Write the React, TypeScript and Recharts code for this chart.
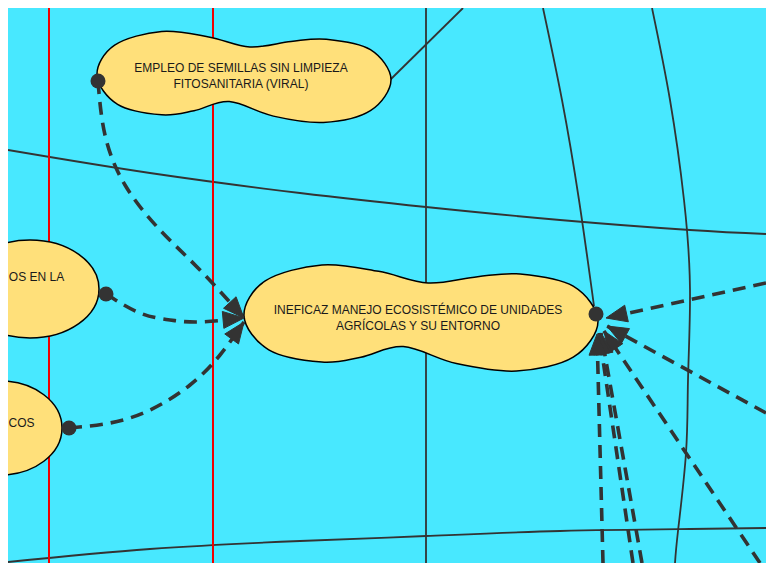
import React from 'react'
import { ComposedChart, XAxis, YAxis, Line, Scatter } from 'recharts'

type Pt = { x: number; y: number }

const pts = (arr: number[][]): Pt[] => arr.map(([x, y]) => ({ x, y }))

// nodes (centre of each shape, chart units)
const nodeLabels = [
  ['EMPLEO DE SEMILLAS SIN LIMPIEZA', 'FITOSANITARIA (VIRAL)'],
  ['INEFICAZ MANEJO ECOSISTÉMICO DE UNIDADES', 'AGRÍCOLAS Y SU ENTORNO'],
  ['OS EN LA'],
  ['COS'],
]
const nodeX = [244, 421, 30, 0]
const nodeY = [77, 318, 289, 428]

// plain connector lines
const redLineX = [49, 213]
const midVertical = pts([[426, 8], [426, 563]])
const diagTop = pts([[463, 8], [390, 80]])
const arcToNode = pts([[543, 8], [562, 100], [579, 200], [594, 306]])
const arcRight = pts([[652, 8], [670, 100], [684, 200], [690, 290], [688, 380], [686, 453], [678, 531], [675, 563]])
const arcUpper = pts([[8, 150], [150, 173], [300, 193], [426, 207], [560, 220], [690, 230], [766, 234]])
const arcLower = pts([[8, 562], [150, 549], [300, 541], [426, 536], [560, 531], [690, 529], [766, 528]])

// dashed arrows, ending at the arrow tip
const dashFromSeeds = pts([[98, 81], [105, 135], [125, 185], [160, 230], [200, 270], [244, 318]])
const dashFromLeft = pts([[106, 294], [140, 313], [170, 320], [200, 322], [244, 318]])
const dashFromLow = pts([[69, 428], [110, 423], [150, 410], [190, 385], [220, 355], [244, 322]])
const dashR1 = pts([[766, 283], [606, 318]])
const dashR2 = pts([[766, 413], [607, 326]])
const dashR3 = pts([[760, 563], [604, 331]])
const dashR4 = pts([[642, 563], [601, 333]])
const dashR5 = pts([[633, 563], [599, 333]])
const dashR6 = pts([[603, 563], [597, 334]])

const startDots = pts([[98, 81], [106, 294], [69, 428], [596, 314]])

const curvedDashes = [dashFromSeeds, dashFromLeft, dashFromLow]
const straightDashes = [dashR1, dashR2, dashR3, dashR4, dashR5, dashR6]

const BG = '#48E8FF'
const YELLOW = '#FFE07A'
const DARK = '#333333'
const RED = '#F00000'
const FONT = '"Liberation Sans", Arial, Helvetica, sans-serif'

const NODE_STYLE = [
  { kind: 'peanut', w: 294, h: 91, tx: -3, ty: -1 },
  { kind: 'peanut', w: 354, h: 106, tx: -3, ty: 0 },
  { kind: 'ellipse', w: 138, h: 98, tx: 6.5, ty: -12 },
  { kind: 'ellipse', w: 124, h: 94, tx: 21.5, ty: -5 },
]

// normalised outline of the peanut shape
const PEANUT = [
  [0, 0.48], [0.06, 0.15], [0.22, 0], [0.38, 0.06], [0.52, 0.17], [0.66, 0.11],
  [0.78, 0.085], [0.93, 0.2], [1, 0.53], [0.93, 0.87], [0.77, 1], [0.6, 0.93],
  [0.45, 0.77], [0.33, 0.87], [0.22, 0.915], [0.07, 0.8],
]

function peanutPath(cx: number, cy: number, w: number, h: number) {
  const p = PEANUT.map(([u, v]) => [cx - w / 2 + u * w, cy - h / 2 + v * h])
  const n = p.length
  let d = `M${p[0][0]},${p[0][1]}`
  for (let i = 0; i < n; i++) {
    const p0 = p[(i - 1 + n) % n], p1 = p[i], p2 = p[(i + 1) % n], p3 = p[(i + 2) % n]
    const c1 = [p1[0] + (p2[0] - p0[0]) / 6, p1[1] + (p2[1] - p0[1]) / 6]
    const c2 = [p2[0] - (p3[0] - p1[0]) / 6, p2[1] - (p3[1] - p1[1]) / 6]
    d += ` C${c1[0]},${c1[1]} ${c2[0]},${c2[1]} ${p2[0]},${p2[1]}`
  }
  return d + ' Z'
}

const nodeData = nodeX.map((x, i) => ({ x, y: nodeY[i], i }))

const arrowData = [...curvedDashes, ...straightDashes].map(a => {
  const t = a[a.length - 1]
  const p = a[a.length - 2]
  return { x: t.x, y: t.y, angle: Math.atan2(t.y - p.y, t.x - p.x) }
})

function NodeShape(props: any) {
  const { cx, cy, payload } = props
  const s = NODE_STYLE[payload.i]
  const lines = nodeLabels[payload.i]
  return (
    <g>
      {s.kind === 'peanut' ? (
        <path d={peanutPath(cx, cy, s.w, s.h)} fill={YELLOW} stroke="#000" strokeWidth={1.5} />
      ) : (
        <ellipse cx={cx} cy={cy} rx={s.w / 2} ry={s.h / 2} fill={YELLOW} stroke="#000" strokeWidth={1.5} />
      )}
      {lines.map((t, k) => (
        <text
          key={k}
          x={cx + s.tx}
          y={cy + s.ty + (k - (lines.length - 1) / 2) * 16}
          dy="0.35em"
          textAnchor="middle"
          fontFamily={FONT}
          fontSize={12}
          fill="#1a1a1a"
        >
          {t}
        </text>
      ))}
    </g>
  )
}

function DotShape(props: any) {
  return <circle cx={props.cx} cy={props.cy} r={7.5} fill={DARK} />
}

function ArrowShape(props: any) {
  const { cx, cy, payload } = props
  const a = payload.angle
  const len = 21
  const hw = 8.5
  const bx = cx - Math.cos(a) * len
  const by = cy - Math.sin(a) * len
  const px = -Math.sin(a) * hw
  const py = Math.cos(a) * hw
  return (
    <polygon
      points={`${cx},${cy} ${bx + px},${by + py} ${bx - px},${by - py}`}
      fill={DARK}
      stroke={DARK}
      strokeWidth={1}
    />
  )
}

const solidLine = (data: Pt[], key: string, type: any = 'natural') => (
  <Line
    key={key}
    data={data}
    dataKey="y"
    type={type}
    stroke={DARK}
    strokeWidth={1.8}
    dot={false}
    activeDot={false}
    isAnimationActive={false}
  />
)

export default function App() {
  return (
    <div
      style={{
        position: 'fixed',
        left: 8,
        top: 8,
        width: 758,
        height: 555,
        background: BG,
        overflow: 'hidden',
      }}
    >
      <ComposedChart width={758} height={555} margin={{ top: 0, right: 0, bottom: 0, left: 0 }}>
        <XAxis type="number" dataKey="x" domain={[8, 766]} hide allowDataOverflow />
        <YAxis type="number" dataKey="y" domain={[8, 563]} reversed hide allowDataOverflow />
        {solidLine(midVertical, 'v', 'linear')}
        {solidLine(diagTop, 'd', 'linear')}
        {solidLine(arcToNode, 'a1')}
        {solidLine(arcRight, 'a2')}
        {solidLine(arcUpper, 'a3')}
        {solidLine(arcLower, 'a4')}
        <Scatter data={nodeData} shape={NodeShape} isAnimationActive={false} />
        {redLineX.map(x => (
          <Line
            key={'r' + x}
            data={[{ x, y: 8 }, { x, y: 563 }]}
            dataKey="y"
            type="linear"
            stroke={RED}
            strokeWidth={2}
            dot={false}
            activeDot={false}
            isAnimationActive={false}
          />
        ))}
        {[...curvedDashes, ...straightDashes].map((d, i) => (
          <Line
            key={'dash' + i}
            data={d}
            dataKey="y"
            type={d.length > 2 ? 'natural' : 'linear'}
            stroke={DARK}
            strokeWidth={3.6}
            strokeDasharray="13 8"
            dot={false}
            activeDot={false}
            isAnimationActive={false}
          />
        ))}
        <Scatter data={startDots} shape={DotShape} isAnimationActive={false} />
        <Scatter data={arrowData} shape={ArrowShape} isAnimationActive={false} />
      </ComposedChart>
    </div>
  )
}
